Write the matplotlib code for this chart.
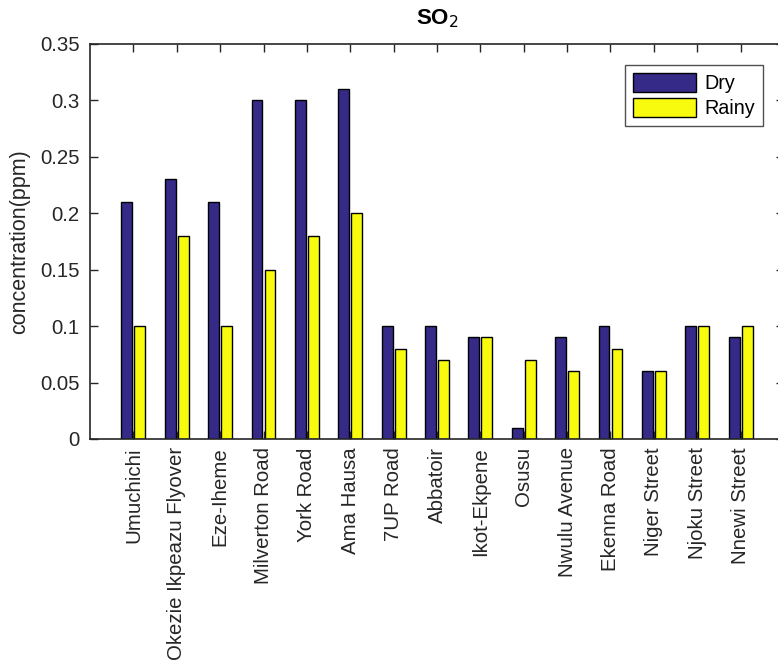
import numpy as np
import matplotlib
matplotlib.use('Agg')
import matplotlib.pyplot as plt

plt.rcParams['font.family'] = ['Liberation Sans', 'DejaVu Sans']

# SO2 concentrations per location
locations = ['Umuchichi', 'Okezie Ikpeazu Flyover', 'Eze-Iheme', 'Milverton Road',
             'York Road', 'Ama Hausa', '7UP Road', 'Abbatoir', 'Ikot-Ekpene', 'Osusu',
             'Nwulu Avenue', 'Ekenna Road', 'Niger Street', 'Njoku Street', 'Nnewi Street']
dry = [0.21, 0.23, 0.21, 0.30, 0.30, 0.31, 0.10, 0.10, 0.09, 0.01, 0.09, 0.10, 0.06, 0.10, 0.09]
rainy = [0.10, 0.18, 0.10, 0.15, 0.18, 0.20, 0.08, 0.07, 0.09, 0.07, 0.06, 0.08, 0.06, 0.10, 0.10]
yticks = [0, 0.05, 0.1, 0.15, 0.2, 0.25, 0.3, 0.35]
ytick_labels = ['0', '0.05', '0.1', '0.15', '0.2', '0.25', '0.3', '0.35']

fig = plt.figure(figsize=(7.78, 6.7), dpi=100)
ax = fig.add_axes([0.1157, 0.3448, 0.892, 0.5896])

x = np.arange(1, len(locations) + 1)
w = 0.25
ax.bar(x - 0.15, dry, w, color='#352A87', edgecolor='black', linewidth=1, label='Dry')
ax.bar(x + 0.15, rainy, w, color='#F9FB0E', edgecolor='black', linewidth=1, label='Rainy')

ax.set_xlim(0, 16)
ax.set_ylim(0, 0.35)
ax.set_xticks(x)
ax.set_xticklabels(locations, rotation=90, fontsize=14.7, color='#262626')
ax.set_yticks(yticks)
ax.set_yticklabels(ytick_labels, fontsize=14.7, color='#262626')
ax.tick_params(direction='in', top=True, right=True, length=6, width=1, colors='#262626')
ax.tick_params(axis='y', pad=7.5)
ax.tick_params(axis='x', pad=6)
for s in ax.spines.values():
    s.set_color('#262626')
    s.set_linewidth(1.2)

ax.set_ylabel('concentration(ppm)', fontsize=15.5, color='#262626', labelpad=7)
ax.set_title('SO$_2$', fontsize=16, fontweight='bold', pad=14)

leg = ax.legend(loc='upper right', bbox_to_anchor=(0.970, 0.947), fontsize=14.2,
                fancybox=False, edgecolor='#262626', handlelength=3.2, handleheight=1.1,
                borderaxespad=0, labelspacing=0.25, handletextpad=0.45, borderpad=0.4)
leg.get_frame().set_linewidth(1)

fig.savefig('out.png', dpi=100)
